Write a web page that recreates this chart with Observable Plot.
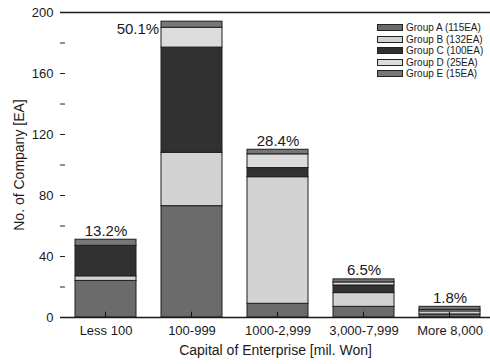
<!DOCTYPE html>
<html>
<head>
<meta charset="utf-8">
<script src="https://cdn.jsdelivr.net/npm/d3@7"></script>
<script src="https://cdn.jsdelivr.net/npm/@observablehq/plot@0.6"></script>
<style>
  body { margin: 0; background: #fff; }
  #chart { position: relative; width: 490px; height: 364px; font-family: "Liberation Sans", Arial, sans-serif; color: #1a1a1a; }
  #legend { position: absolute; left: 377px; top: 22px; font-size: 10px; line-height: 11.5px; }
  #legend .row { display: flex; align-items: center; height: 11.5px; }
  #legend .sw { width: 24px; height: 5px; border: 1px solid #222; margin-right: 3px; }
</style>
</head>
<body>
<div id="chart"><div id="legend"></div></div>
<script>
// Capital brackets (x axis)
const categories = ["Less 100", "100-999", "1000-2,999", "3,000-7,999", "More 8,000"];
// Company groups, stacked bottom to top
const groups = ["Group A (115EA)", "Group B (132EA)", "Group C (100EA)", "Group D (25EA)", "Group E (15EA)"];
const fills = ["#6b6b6b", "#d3d3d3", "#313131", "#dcdcdc", "#777777"];
// Number of companies per bracket for each group
const groupA = [24, 73, 9, 7, 2];
const groupB = [3, 35, 83, 9, 2];
const groupC = [20, 69, 6, 5, 0];
const groupD = [0, 13, 9, 2, 1];
const groupE = [4, 4, 3, 2, 2];
// Share of all companies in each bracket (%)
const shares = [13.2, 50.1, 28.4, 6.5, 1.8];
const yTicks = [0, 40, 80, 120, 160, 200];
const yMinor = [20, 60, 100, 140, 180];

const series = [groupA, groupB, groupC, groupD, groupE];
const rows = [];
series.forEach((vals, g) => vals.forEach((v, i) => {
  if (v > 0) rows.push({category: categories[i], group: groups[g], count: v});
}));
const totals = categories.map((c, i) => ({
  category: c,
  total: series.reduce((s, vals) => s + vals[i], 0),
  label: shares[i].toFixed(1) + "%"
}));

const pInner = 0.29;
const xRange = [73, 481.6];
const step = (xRange[1] - xRange[0]) / (categories.length - pInner);
const bw = step * (1 - pInner);

const font = "'Liberation Sans', Arial, sans-serif";
// plain tick stroke for vector marks
const tickLine = {draw(context, l) { context.moveTo(0, 0); context.lineTo(0, -l); }};

const chart = Plot.plot({
  width: 490,
  height: 364,
  marginLeft: 60,
  marginRight: 0,
  marginTop: 12,
  marginBottom: 47,
  style: {fontFamily: font, fontSize: "13px", color: "#1a1a1a", background: "#fff"},
  x: {domain: categories, range: xRange, paddingInner: pInner, paddingOuter: 0},
  y: {domain: [0, 200]},
  color: {domain: groups, range: fills},
  marks: [
    Plot.barY(rows, Plot.stackY({
      x: "category", y: "count", fill: "group", order: null,
      stroke: "#1e1e1e", strokeWidth: 1
    })),
    Plot.ruleY([0, 200], {stroke: "#1a1a1a", strokeWidth: 1.5}),
    // y axis: line, inward ticks, labels
    Plot.axisY({ticks: [], tickSize: 0, text: null, label: null, line: true, stroke: "#1a1a1a", strokeWidth: 1.5}),
    Plot.vector(yTicks.concat(yMinor), {y: d => d, frameAnchor: "left", length: 4, rotate: 90, anchor: "start", shape: tickLine, stroke: "#1a1a1a", strokeWidth: 1.2}),
    Plot.axisY({ticks: yTicks, tickSize: 0, tickPadding: 7, fontSize: 13, label: null}),
    Plot.axisY({ticks: [], tickSize: 0, label: "No. of Company [EA]", labelAnchor: "center", labelArrow: "none", labelOffset: 46, fontSize: 14}),
    // x axis: short inward ticks at band centres, drawn over the bars
    Plot.barY(categories, {x: d => d, y1: 0, y2: 3.5, insetLeft: bw / 2 - 0.8, insetRight: bw / 2 - 0.8, fill: "#111"}),
    Plot.axisX({tickSize: 0, tickPadding: 8, fontSize: 13, label: null}),
    Plot.axisX({ticks: [], tickSize: 0, label: "Capital of Enterprise [mil. Won]", labelAnchor: "center", labelArrow: "none", labelOffset: 37, fontSize: 14}),
    // share labels
    Plot.text(totals.filter(d => d.total < 150), {x: "category", y: "total", text: "label", dy: -9, fontSize: 15}),
    Plot.text(totals.filter(d => d.total >= 150), {x: "category", y: "total", text: "label", dy: 8, dx: -(bw / 2 + 2), textAnchor: "end", fontSize: 15})
  ]
});
document.getElementById("chart").prepend(chart);

const legend = d3.select("#legend");
groups.forEach((g, i) => {
  const row = legend.append("div").attr("class", "row");
  row.append("div").attr("class", "sw").style("background", fills[i]);
  row.append("span").text(g);
});
</script>
</body>
</html>
